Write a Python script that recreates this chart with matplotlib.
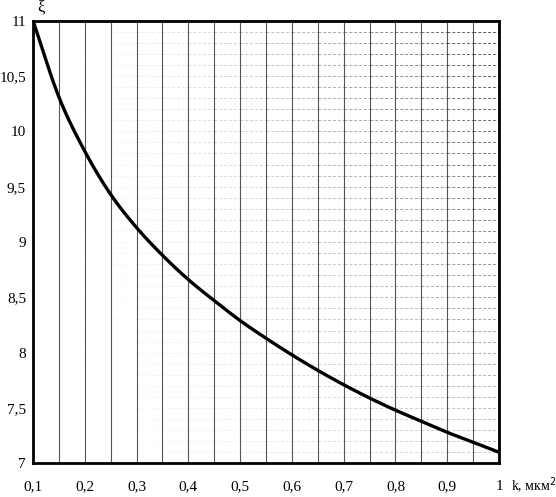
import numpy as np
import matplotlib
matplotlib.use("Agg")
import matplotlib.pyplot as plt
from matplotlib.ticker import FuncFormatter

# valores
k = [0.10, 0.15, 0.20, 0.25, 0.30, 0.35, 0.40, 0.45, 0.50, 0.55,
     0.60, 0.65, 0.70, 0.75, 0.80, 0.85, 0.90, 0.95, 1.00]
xi = [11.0, 10.31, 9.82, 9.43, 9.13, 8.88, 8.66, 8.47, 8.29, 8.13,
      7.98, 7.84, 7.71, 7.59, 7.48, 7.38, 7.28, 7.19, 7.10]

xticks = [0.1, 0.2, 0.3, 0.4, 0.5, 0.6, 0.7, 0.8, 0.9, 1.0]
yticks = [7, 7.5, 8, 8.5, 9, 9.5, 10, 10.5, 11]


def suavizar(x, y, n=20):
    # Catmull-Rom entre os pontos lidos, só para a linha ficar lisa
    x = np.asarray(x); y = np.asarray(y)
    px = np.concatenate([[2 * x[0] - x[1]], x, [2 * x[-1] - x[-2]]])
    py = np.concatenate([[2 * y[0] - y[1]], y, [2 * y[-1] - y[-2]]])
    xs, ys = [], []
    t = np.linspace(0, 1, n, endpoint=False)
    for i in range(1, len(px) - 2):
        for arr, out in ((px, xs), (py, ys)):
            p0, p1, p2, p3 = arr[i - 1], arr[i], arr[i + 1], arr[i + 2]
            out.extend(0.5 * (2 * p1 + (-p0 + p2) * t
                              + (2 * p0 - 5 * p1 + 4 * p2 - p3) * t ** 2
                              + (-p0 + 3 * p1 - 3 * p2 + p3) * t ** 3))
    xs.append(x[-1]); ys.append(y[-1])
    return xs, ys


plt.rcParams['font.family'] = ['Liberation Serif', 'DejaVu Serif']

fig = plt.figure(figsize=(5.56, 4.97), dpi=100)
ax = fig.add_axes([0.0594, 0.0678, 0.8381, 0.8905])
ax.set_xlim(0.1, 1.0)
ax.set_ylim(7, 11)

# linhas verticais a cada 0,05
for xv in np.arange(0.15, 0.99, 0.05):
    ax.axvline(xv, color="#555555", lw=0.8, zorder=1)

# linhas horizontais fracas (mais visíveis à direita e em cima)
colunas = np.arange(0.1, 1.0, 0.05)
for yv in np.arange(7.1, 10.95, 0.1):
    for x0 in colunas:
        a = ((x0 - 0.1) / 0.9) ** 1.5 * (0.3 + 0.7 * (yv - 7) / 4)
        ax.plot([x0, x0 + 0.05], [yv, yv], color="#444444", lw=0.7,
                ls=(0, (3, 2)), alpha=min(a, 0.9), zorder=1)

xs, ys = suavizar(k, xi)
ax.plot(xs, ys, color="black", lw=2.4, zorder=3)

for s in ax.spines.values():
    s.set_linewidth(2.0)

ax.set_xticks(xticks)
ax.set_yticks(yticks)
fmt = FuncFormatter(lambda v, p: ("%g" % v).replace(".", ","))
ax.xaxis.set_major_formatter(fmt)
ax.yaxis.set_major_formatter(fmt)
ax.tick_params(length=0, labelsize=11)
ax.tick_params(axis="x", pad=12)
ax.tick_params(axis="y", pad=5)

ax.text(0.016, 1.012, "ξ", transform=ax.transAxes, fontsize=12,
        ha="center", va="bottom")
ax.text(1.025, -0.05, "k, мкм$^2$", transform=ax.transAxes, fontsize=10,
        ha="left", va="center")

fig.savefig("out.png", dpi=100)
